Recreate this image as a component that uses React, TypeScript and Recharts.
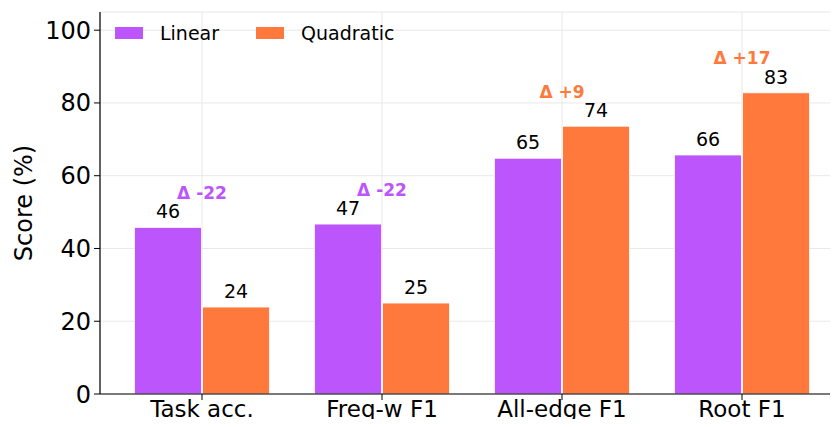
import React from "react";
import {
  BarChart,
  Bar,
  XAxis,
  YAxis,
  CartesianGrid,
  LabelList,
  ReferenceDot,
} from "recharts";

const categories = ["Task acc.", "Freq-w F1", "All-edge F1", "Root F1"];
const linearScores = [45.8, 46.7, 64.8, 65.7];
const quadraticScores = [23.9, 25.0, 73.6, 82.8];
const deltas = [-22, -22, 9, 17];
const yTicks = [0, 20, 40, 60, 80, 100];

const PURPLE = "#bc55fb";
const ORANGE = "#ff793d";
const FONT = "'DejaVu Sans', sans-serif";

const data = categories.map((name, i) => ({
  name,
  linear: linearScores[i],
  quadratic: quadraticScores[i],
}));

const LegendBox = () => (
  <div
    style={{
      position: "absolute",
      top: 22,
      left: 115,
      display: "flex",
      alignItems: "center",
      fontFamily: FONT,
      fontSize: 19,
      lineHeight: "22px",
    }}
  >
    <span style={{ width: 28, height: 12, background: PURPLE, display: "inline-block" }} />
    <span style={{ marginLeft: 17, marginRight: 37 }}>Linear</span>
    <span style={{ width: 28, height: 12, background: ORANGE, display: "inline-block" }} />
    <span style={{ marginLeft: 17 }}>Quadratic</span>
  </div>
);

const valueLabel = (props: any) => {
  const { x, y, width, value } = props;
  return (
    <text
      x={x + width / 2}
      y={y - 9}
      textAnchor="middle"
      fontFamily={FONT}
      fontSize={19}
      fill="#000"
    >
      {Math.round(value)}
    </text>
  );
};

export default function App() {
  return (
    <div style={{ margin: -8, width: 838, height: 427, background: "#fff", position: "relative" }}>
      <BarChart
        width={838}
        height={427}
        data={data}
        margin={{ top: 12, right: 0, left: 0, bottom: 0 }}
        barCategoryGap="12.5%"
        barGap={1}
      >
        <CartesianGrid stroke="#e8e8e8" strokeWidth={1} />
        <XAxis
          dataKey="name"
          height={33}
          padding={{ left: 12, right: 6 }}
          axisLine={{ stroke: "#000", strokeWidth: 1.2 }}
          tickLine={{ stroke: "#000", strokeWidth: 1 }}
          tickSize={6}
          tickMargin={1}
          tick={{ fontFamily: FONT, fontSize: 23, fill: "#000" }}
          interval={0}
        />
        <YAxis
          width={100}
          domain={[0, 105]}
          ticks={yTicks}
          allowDataOverflow
          axisLine={{ stroke: "#000", strokeWidth: 1.2 }}
          tickLine={{ stroke: "#000", strokeWidth: 1 }}
          tickSize={6}
          tickMargin={3}
          tick={{ fontFamily: FONT, fontSize: 24, fill: "#000" }}
          label={{
            value: "Score (%)",
            angle: -90,
            position: "insideLeft",
            dx: 18,
            dy: 0,
            style: { fontFamily: FONT, fontSize: 24, fill: "#000", textAnchor: "middle" },
          }}
        />
        <Bar dataKey="linear" name="Linear" fill={PURPLE} stroke="#fff" strokeWidth={0.8} isAnimationActive={false}>
          <LabelList dataKey="linear" content={valueLabel} />
        </Bar>
        <Bar dataKey="quadratic" name="Quadratic" fill={ORANGE} stroke="#fff" strokeWidth={0.8} isAnimationActive={false}>
          <LabelList dataKey="quadratic" content={valueLabel} />
        </Bar>
        {categories.map((c, i) => (
          <ReferenceDot
            key={c}
            x={c}
            y={Math.max(linearScores[i], quadraticScores[i]) + 9.5}
            r={0}
            stroke="none"
            fill="none"
            label={(p: any) => {
              const { viewBox } = p;
              const cx = viewBox.x + (viewBox.width || 0) / 2;
              const cy = viewBox.y + (viewBox.height || 0) / 2;
              return (
                <text
                  x={cx}
                  y={cy}
                  textAnchor="middle"
                  dominantBaseline="central"
                  fontFamily={FONT}
                  fontWeight="bold"
                  fontSize={17}
                  fill={deltas[i] < 0 ? PURPLE : ORANGE}
                >
                  {`Δ ${deltas[i] > 0 ? "+" : ""}${deltas[i]}`}
                </text>
              );
            }}
          />
        ))}
      </BarChart>
      <LegendBox />
    </div>
  );
}
